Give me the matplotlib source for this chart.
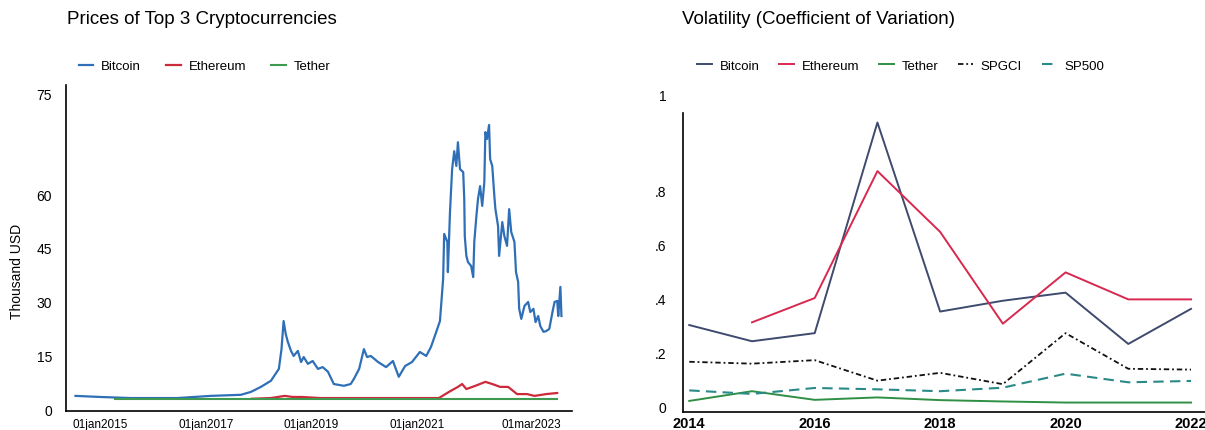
import matplotlib
matplotlib.use("Agg")
import matplotlib.pyplot as plt

plt.rcParams['font.family'] = ['Liberation Sans', 'DejaVu Sans']

# ---- left panel: prices (thousand USD), dates as decimal years ----
btc_t = [2014.53, 2015.0, 2015.57, 2016.46, 2017.09, 2017.66, 2017.85, 2018.04, 2018.23, 2018.38,
         2018.43, 2018.47, 2018.51, 2018.55, 2018.61, 2018.66, 2018.74, 2018.80, 2018.85, 2018.93,
         2019.02, 2019.12, 2019.21, 2019.31, 2019.42, 2019.61, 2019.74, 2019.80, 2019.90, 2019.99,
         2020.05, 2020.12, 2020.26, 2020.41, 2020.54, 2020.65, 2020.77, 2020.90, 2021.05, 2021.17,
         2021.26, 2021.36, 2021.43, 2021.49, 2021.51, 2021.57, 2021.58, 2021.62, 2021.66, 2021.70,
         2021.74, 2021.77, 2021.81, 2021.87, 2021.89, 2021.90, 2021.93, 2021.96, 2022.02, 2022.06,
         2022.08, 2022.12, 2022.15, 2022.19, 2022.23, 2022.27, 2022.29, 2022.32, 2022.36, 2022.38,
         2022.42, 2022.46, 2022.48, 2022.53, 2022.55, 2022.61, 2022.65, 2022.70, 2022.74, 2022.78,
         2022.84, 2022.87, 2022.91, 2022.93, 2022.97, 2023.03, 2023.10, 2023.14, 2023.20, 2023.24,
         2023.29, 2023.33, 2023.39, 2023.44, 2023.50, 2023.56, 2023.60, 2023.65, 2023.67, 2023.71,
         2023.73]
btc_v = [3.9, 3.6, 3.3, 3.3, 3.9, 4.2, 5.0, 6.4, 8.1, 11.4,
         16.9, 24.7, 21.1, 18.9, 16.4, 15.0, 16.4, 13.3, 14.7, 12.8,
         13.6, 11.4, 11.9, 10.6, 7.2, 6.7, 7.2, 8.6, 11.4, 16.9,
         14.7, 15.0, 13.3, 11.9, 13.6, 9.2, 12.2, 13.3, 16.1, 15.0,
         17.5, 21.7, 24.7, 36.4, 48.9, 46.7, 38.3, 55.0, 66.9, 71.9,
         67.8, 74.4, 66.9, 66.1, 58.6, 48.3, 42.8, 41.1, 40.0, 36.9,
         46.7, 53.9, 58.6, 62.2, 56.7, 63.3, 77.2, 75.3, 79.2, 69.7,
         67.8, 59.4, 55.8, 51.1, 42.8, 52.2, 48.3, 45.6, 55.8, 49.4,
         46.7, 38.3, 35.6, 28.1, 25.3, 28.9, 30.0, 27.2, 28.1, 24.4,
         26.1, 23.3, 21.7, 21.9, 22.5, 27.2, 30.0, 30.3, 26.1, 34.2,
         26.1]

eth_t = [2017.87, 2018.23, 2018.49, 2018.64, 2018.81, 2019.17, 2021.41, 2021.60, 2021.77, 2021.85,
         2021.93, 2022.10, 2022.29, 2022.42, 2022.57, 2022.72, 2022.89, 2023.08, 2023.22, 2023.44,
         2023.65]
eth_v = [3.1, 3.3, 3.9, 3.6, 3.6, 3.3, 3.3, 5.0, 6.4, 7.2,
         5.8, 6.7, 7.8, 7.2, 6.4, 6.4, 4.4, 4.4, 3.9, 4.4,
         4.7]

usdt_t = [2015.27, 2023.65]
usdt_v = [3.1, 3.1]

price_ticks = [0, 15, 30, 45, 60, 87.8]
price_labels = ['0', '15', '30', '45', '60', '75']
date_ticks = [2015.0, 2017.0, 2019.0, 2021.0, 2023.16]
date_labels = ['01jan2015', '01jan2017', '01jan2019', '01jan2021', '01mar2023']

# ---- right panel: coefficient of variation by year ----
years = [2014, 2015, 2016, 2017, 2018, 2019, 2020, 2021, 2022]
cv_btc = [0.30, 0.24, 0.27, 1.05, 0.35, 0.39, 0.42, 0.23, 0.36]
cv_eth = [None, 0.31, 0.40, 0.87, 0.645, 0.305, 0.495, 0.395, 0.395]
cv_usdt = [0.019, 0.055, 0.023, 0.032, 0.022, 0.017, 0.013, 0.013, 0.013]
cv_spgci = [0.164, 0.157, 0.170, 0.094, 0.123, 0.081, 0.27, 0.138, 0.135]
cv_sp500 = [0.058, 0.045, 0.067, 0.062, 0.055, 0.068, 0.12, 0.088, 0.093]

cv_ticks = [0, 0.2, 0.4, 0.6, 0.8, 1.155]
cv_labels = ['0', '.2', '.4', '.6', '.8', '1']

W, H = 1205, 431
fig = plt.figure(figsize=(W / 100, H / 100), dpi=100)

# left axes
ax1 = fig.add_axes([66 / W, 1 - 412 / H, (572 - 66) / W, (412 - 86) / H])
ax1.plot(btc_t, btc_v, color='#2f6fb7', lw=1.6, label='Bitcoin')
ax1.plot(eth_t, eth_v, color='#cc2a3b', lw=1.6, label='Ethereum')
ax1.plot(usdt_t, usdt_v, color='#3d9a4f', lw=1.5, label='Tether')
ax1.set_xlim(2014.35, 2023.93)
ax1.set_ylim(-0.3, 90.3)
ax1.set_yticks(price_ticks, price_labels)
ax1.set_xticks(date_ticks, date_labels)
ax1.set_ylabel('Thousand USD', fontsize=10)
ax1.yaxis.set_label_coords(-0.083, 0.43)
ax1.tick_params(axis='y', length=0, labelsize=10, pad=10)
ax1.tick_params(axis='x', length=0, labelsize=8.5, pad=5)
ax1.legend(loc='center left', bbox_to_anchor=(0.015, 1.058), ncol=3, frameon=False,
           fontsize=9.5, handlelength=1.1, handletextpad=0.6, columnspacing=1.9, borderaxespad=0)

# right axes
cv_top = 1.16
ax2 = fig.add_axes([683 / W, 1 - 413 / H, (1210 - 683) / W, (413 - 407 + cv_top * 270) / H])
ax2.plot(years, cv_btc, color='#3e4a6e', lw=1.4, label='Bitcoin')
ax2.plot(years, [float('nan') if v is None else v for v in cv_eth], color='#d9284f', lw=1.4, label='Ethereum')
ax2.plot(years, cv_usdt, color='#2f8f45', lw=1.4, label='Tether')
ax2.plot(years, cv_spgci, color='#111111', lw=1.3, ls=(0, (3, 1.6, 1, 1.6)), label='SPGCI')
ax2.plot(years, cv_sp500, color='#2a8a88', lw=1.5, ls=(0, (5, 3)), label='SP500')
ax2.set_xlim(2013.9, 2014 + (1210 - 689) / 62.75)
ax2.set_ylim(-0.022, cv_top)
ax2.spines['left'].set_bounds(-0.022, 1.085)
ax2.set_yticks(cv_ticks, cv_labels)
ax2.set_xticks([2014, 2016, 2018, 2020, 2022])
ax2.tick_params(axis='y', length=0, labelsize=10, pad=12)
ax2.tick_params(axis='x', length=0, labelsize=10.5, pad=3)
for lab in ax2.get_xticklabels():
    lab.set_fontweight('bold')
ax2.legend(loc='center left', bbox_to_anchor=(0.017, 1.084), ncol=5, frameon=False,
           fontsize=9.5, handlelength=1.1, handletextpad=0.6, columnspacing=1.5, borderaxespad=0)

for ax in (ax1, ax2):
    ax.spines['top'].set_visible(False)
    ax.spines['right'].set_visible(False)
    ax.spines['left'].set_linewidth(1.2)
    ax.spines['bottom'].set_linewidth(1.2)

fig.text(67 / W, 1 - 20 / H, 'Prices of Top 3 Cryptocurrencies', fontsize=13.5, va='center', ha='left')
fig.text(682 / W, 1 - 20 / H, 'Volatility (Coefficient of Variation)', fontsize=13.5, va='center', ha='left')

fig.savefig('out.png', dpi=100)
